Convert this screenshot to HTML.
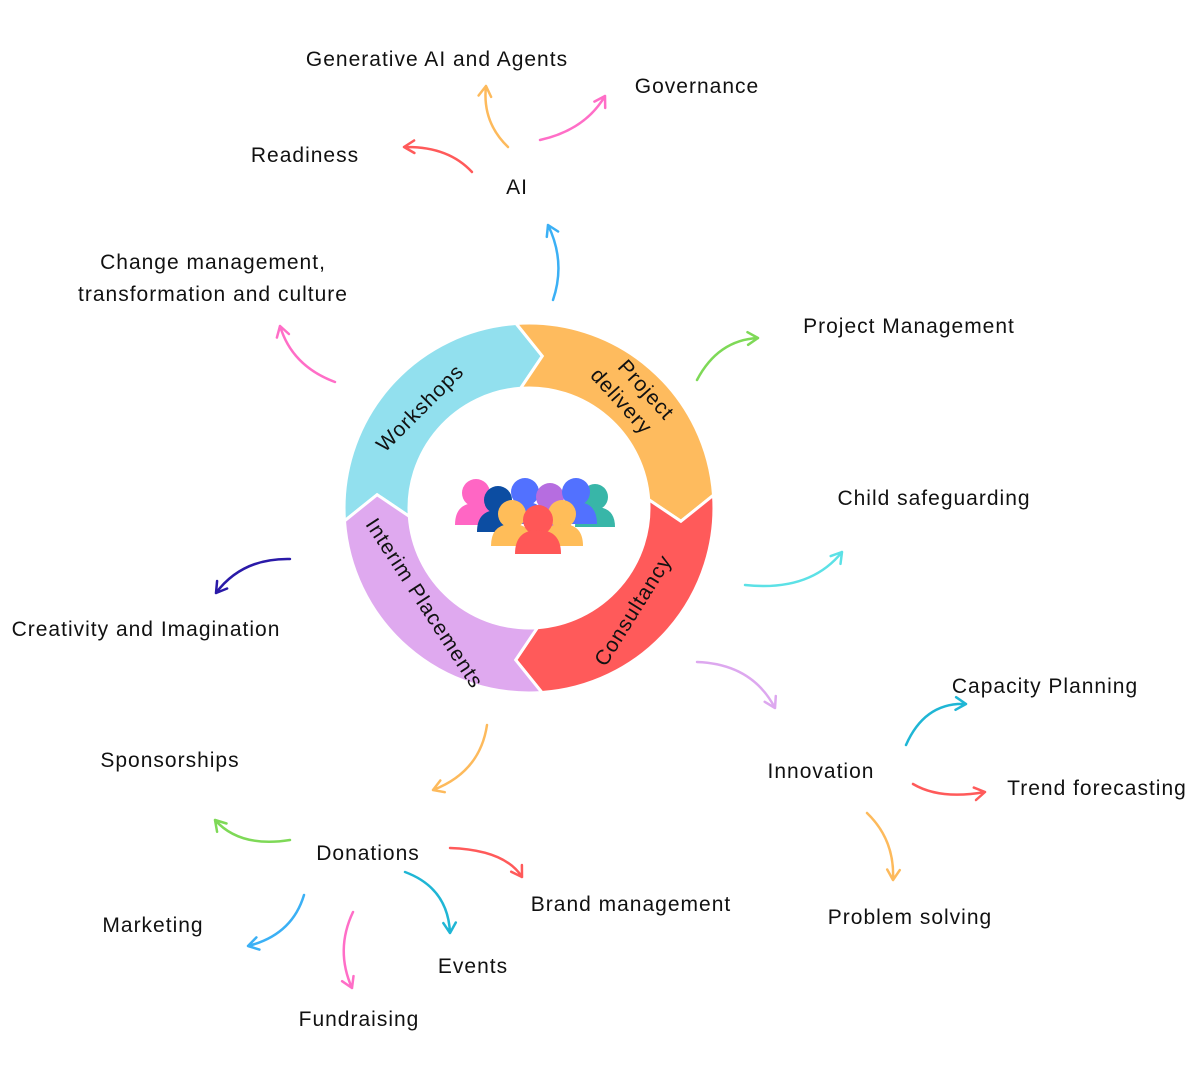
<!DOCTYPE html>
<html><head><meta charset="utf-8"><style>
html,body{margin:0;padding:0;background:#fff;width:1195px;height:1080px;overflow:hidden}
svg{display:block}
text{font-family:"Liberation Sans",sans-serif;font-size:21px;letter-spacing:1px;fill:#111}
</style></head><body>
<svg id="s" width="1195" height="1080" viewBox="0 0 1195 1080">
<g id="ring"></g>
<g>
<text transform="rotate(-45 420 408)" text-anchor="middle" style="font-size:21px"><tspan x="420" y="415">Workshops</tspan></text>
<text transform="rotate(48 628 398)" text-anchor="middle" style="font-size:21px"><tspan x="634" y="386">Project</tspan><tspan x="626" y="412">delivery</tspan></text>
<text transform="rotate(-58 632 612)" text-anchor="middle" style="font-size:21px"><tspan x="634" y="619">Consultancy</tspan></text>
<text transform="rotate(57 424 606)" text-anchor="middle" style="font-size:21px"><tspan x="422" y="611">Interim Placements</tspan></text>
</g>
<g id="people">
<circle cx="476" cy="493" r="14" fill="#FF66C4"/><path d="M455 525 q0-22 21-22 q21 0 21 22 z" fill="#FF66C4"/>
<circle cx="595" cy="497" r="13" fill="#38B6A8"/><path d="M575 527 q0-20 20-20 q20 0 20 20 z" fill="#38B6A8"/>
<circle cx="498" cy="500" r="14" fill="#0C4DA2"/><path d="M477 532 q0-22 21-22 q21 0 21 22 z" fill="#0C4DA2"/>
<circle cx="525" cy="492" r="14" fill="#5271FF"/><path d="M504 524 q0-22 21-22 q21 0 21 22 z" fill="#5271FF"/>
<circle cx="550" cy="497" r="14" fill="#B66DE0"/><path d="M529 529 q0-22 21-22 q21 0 21 22 z" fill="#B66DE0"/>
<circle cx="576" cy="492" r="14" fill="#5271FF"/><path d="M555 524 q0-22 21-22 q21 0 21 22 z" fill="#5271FF"/>
<circle cx="512" cy="514" r="14" fill="#FFBD59"/><path d="M491 546 q0-22 21-22 q21 0 21 22 z" fill="#FFBD59"/>
<circle cx="562" cy="514" r="14" fill="#FFBD59"/><path d="M541 546 q0-22 21-22 q21 0 21 22 z" fill="#FFBD59"/>
<circle cx="538" cy="520" r="15" fill="#FF5757"/><path d="M515 554 q0-24 23-24 q23 0 23 24 z" fill="#FF5757"/>
</g>
<g id="arrows" fill="none" stroke-width="2.5" stroke-linecap="round" stroke-linejoin="round"></g>
<g text-anchor="middle">
<text x="437" y="66">Generative AI and Agents</text>
<text x="697" y="93">Governance</text>
<text x="305" y="162">Readiness</text>
<text x="517" y="194">AI</text>
<text x="213" y="269">Change management,</text>
<text x="213" y="301">transformation and culture</text>
<text x="909" y="333">Project Management</text>
<text x="934" y="505">Child safeguarding</text>
<text x="146" y="636">Creativity and Imagination</text>
<text x="1045" y="693">Capacity Planning</text>
<text x="821" y="778">Innovation</text>
<text x="1097" y="795">Trend forecasting</text>
<text x="170" y="767">Sponsorships</text>
<text x="368" y="860">Donations</text>
<text x="631" y="911">Brand management</text>
<text x="910" y="924">Problem solving</text>
<text x="153" y="932">Marketing</text>
<text x="473" y="973">Events</text>
<text x="359" y="1026">Fundraising</text>
</g>
</svg>
<script>
var NS="http://www.w3.org/2000/svg";
var cx=529,cy=508,R=185,r=120,rm=(R+r)/2,d=9;
function P(a,rad){var t=a*Math.PI/180;return [cx+rad*Math.sin(t),cy-rad*Math.cos(t)];}
function f(p){return p[0].toFixed(1)+" "+p[1].toFixed(1);}
var segs=[[-94,-4,"#92E0EE"],[-4,86,"#FEBB5E"],[86,176,"#FF5A5A"],[176,266,"#DFA9EF"]];
var ring=document.getElementById("ring");
segs.forEach(function(s){
 var a0=s[0],a1=s[1];
 var dd="M"+f(P(a0,R))+" A"+R+" "+R+" 0 0 1 "+f(P(a1,R))+" L"+f(P(a1+d,rm))+" L"+f(P(a1,r))+" A"+r+" "+r+" 0 0 0 "+f(P(a0,r))+" L"+f(P(a0+d,rm))+" Z";
 var p=document.createElementNS(NS,"path");p.setAttribute("d",dd);p.setAttribute("fill",s[2]);p.setAttribute("stroke","#fff");p.setAttribute("stroke-width","3");p.setAttribute("stroke-linejoin","miter");ring.appendChild(p);
});
var A=[
[553,300,566,262,548,225,"#3BB0F5"],
[472,172,448,146,404,147,"#FF5A5A"],
[508,147,482,122,486,86,"#FDBA5C"],
[540,140,585,130,605,96,"#FF6EC7"],
[335,382,292,366,280,326,"#FF6EC7"],
[697,380,718,340,758,338,"#7ED957"],
[745,585,810,592,842,552,"#5CE1E6"],
[697,662,752,664,775,708,"#DDA8EF"],
[290,559,242,558,216,593,"#2A1AA8"],
[487,725,480,772,433,790,"#FDBA5C"],
[906,745,925,702,966,704,"#1FB6D5"],
[913,784,940,800,985,792,"#FF5A5A"],
[867,813,895,840,893,880,"#FDBA5C"],
[290,840,240,848,215,820,"#7ED957"],
[450,848,505,850,522,877,"#FF5A5A"],
[405,872,448,888,450,933,"#1FB6D5"],
[353,912,335,950,352,988,"#FF6EC7"],
[304,895,292,935,248,946,"#3BB0F5"]
];
var g=document.getElementById("arrows");
A.forEach(function(a){
 var p=document.createElementNS(NS,"path");
 var dx=a[4]-a[2],dy=a[5]-a[3],L=Math.hypot(dx,dy);dx/=L;dy/=L;
 var h=12,c=Math.cos(0.55),sn=Math.sin(0.55);
 var l1=[a[4]-h*(dx*c-dy*sn),a[5]-h*(dy*c+dx*sn)],l2=[a[4]-h*(dx*c+dy*sn),a[5]-h*(dy*c-dx*sn)];
 p.setAttribute("d","M"+a[0]+" "+a[1]+" Q"+a[2]+" "+a[3]+" "+a[4]+" "+a[5]+" M"+f(l1)+" L"+a[4]+" "+a[5]+" L"+f(l2));
 p.setAttribute("stroke",a[6]);g.appendChild(p);
});
</script>
</body></html>
